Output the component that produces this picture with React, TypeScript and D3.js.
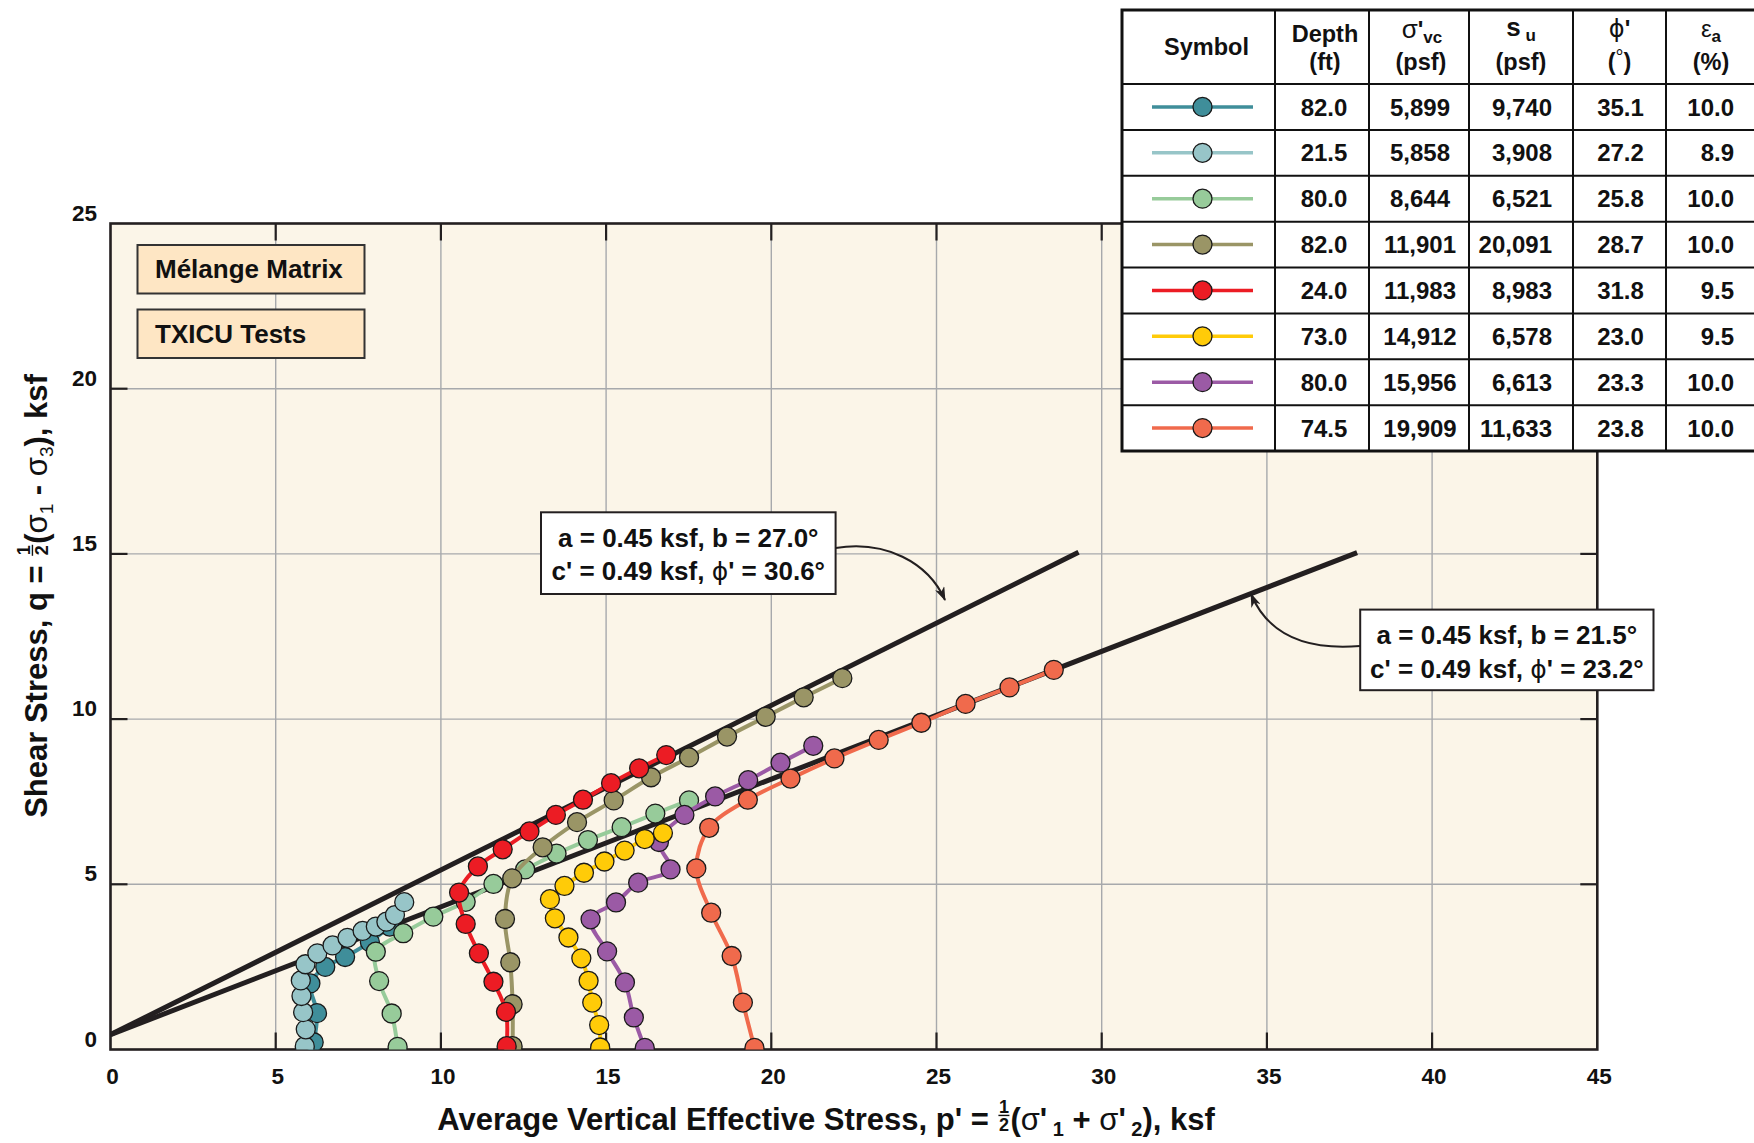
import React from "react";
import * as d3 from "d3";

const FONT = '"Liberation Sans", Arial, Helvetica, sans-serif';
const INK = "#231F20";

// ---------- data ----------
const xTickValues = [0, 5, 10, 15, 20, 25, 30, 35, 40, 45];
const yTickValues = [0, 5, 10, 15, 20, 25];

const seriesColors = ["#3F8E9A", "#97C5C8", "#97CB9A", "#9A9566", "#EC1C24", "#FFCB08", "#9B5AA5", "#F06A4C"];

const depthFt = ["82.0", "21.5", "80.0", "82.0", "24.0", "73.0", "80.0", "74.5"];
const sigmaVcPsf = ["5,899", "5,858", "8,644", "11,901", "11,983", "14,912", "15,956", "19,909"];
const suPsf = ["9,740", "3,908", "6,521", "20,091", "8,983", "6,578", "6,613", "11,633"];
const phiDeg = ["35.1", "27.2", "25.8", "28.7", "31.8", "23.0", "23.3", "23.8"];
const epsAPct = ["10.0", "8.9", "10.0", "10.0", "9.5", "9.5", "10.0", "10.0"];

// stress paths [p', q] in ksf
const series1: [number, number][] = [[6.15, 0.22], [6.25, 1.1], [6.05, 2.0], [6.5, 2.5], [7.1, 2.8], [7.85, 3.25], [8.45, 3.72]];
const series2: [number, number][] = [[5.88, 0.1], [5.91, 0.61], [5.83, 1.13], [5.78, 1.62], [5.76, 2.09], [5.9, 2.58], [6.26, 2.91], [6.72, 3.15], [7.17, 3.38], [7.63, 3.59], [8.03, 3.72], [8.35, 3.87], [8.61, 4.07], [8.89, 4.46]];
const series3: [number, number][] = [[8.69, 0.08], [8.51, 1.09], [8.13, 2.07], [8.03, 2.96], [8.86, 3.52], [9.77, 4.02], [10.75, 4.47], [11.59, 5.01], [12.55, 5.45], [13.5, 5.93], [14.45, 6.34], [15.47, 6.73], [16.49, 7.14], [17.51, 7.54]];
const series4: [number, number][] = [[12.17, 0.1], [12.17, 1.37], [12.1, 2.64], [11.94, 3.95], [12.16, 5.18], [13.08, 6.12], [14.12, 6.88], [15.23, 7.54], [16.36, 8.24], [17.51, 8.84], [18.66, 9.47], [19.83, 10.07], [20.98, 10.66], [22.15, 11.24]];
const series5: [number, number][] = [[11.99, 0.1], [11.97, 1.14], [11.59, 2.05], [11.15, 2.91], [10.75, 3.8], [10.55, 4.75], [11.12, 5.54], [11.87, 6.06], [12.68, 6.6], [13.48, 7.1], [14.3, 7.56], [15.15, 8.06], [16.0, 8.51], [16.82, 8.91]];
const series6: [number, number][] = [[14.82, 0.06], [14.79, 0.74], [14.58, 1.42], [14.47, 2.08], [14.25, 2.76], [13.86, 3.39], [13.45, 3.97], [13.3, 4.55], [13.74, 4.95], [14.33, 5.35], [14.95, 5.69], [15.56, 6.02], [16.17, 6.37], [16.72, 6.55]];
const series7: [number, number][] = [[16.17, 0.05], [15.84, 0.97], [15.57, 2.03], [15.03, 2.97], [14.53, 3.94], [15.3, 4.45], [15.97, 5.05], [16.95, 5.45], [16.6, 6.28], [17.37, 7.1], [18.3, 7.66], [19.3, 8.15], [20.28, 8.68], [21.27, 9.19]];
const series8: [number, number][] = [[19.49, 0.05], [19.14, 1.42], [18.8, 2.83], [18.18, 4.14], [17.73, 5.48], [18.12, 6.71], [19.29, 7.56], [20.58, 8.2], [21.91, 8.81], [23.25, 9.37], [24.54, 9.89], [25.88, 10.46], [27.21, 10.96], [28.55, 11.49]];
const allSeries = [series1, series2, series3, series4, series5, series6, series7, series8];
const drawOrder = [0, 1, 2, 3, 4, 6, 5, 7];

// failure envelopes
const envelopeUpper: [number, number][] = [[0, 0.45], [29.3, 15.05]];
const envelopeLower: [number, number][] = [[0, 0.45], [37.73, 15.04]];
const upperLabel = { ab: "a = 0.45 ksf, b = 27.0°", c: "c' = 0.49 ksf, ", phi: "' = 30.6°" };
const lowerLabel = { ab: "a = 0.45 ksf, b = 21.5°", c: "c' = 0.49 ksf, ", phi: "' = 23.2°" };

const titleBoxes = ["Mélange Matrix", "TXICU Tests"];

// ---------- text measuring ----------
let measureCtx: CanvasRenderingContext2D | null = null;
function measureText(t: string, size: number, weight: string | number) {
  if (!measureCtx) measureCtx = document.createElement("canvas").getContext("2d");
  if (!measureCtx) return t.length * size * 0.55;
  measureCtx.font = `${weight} ${size}px "Liberation Sans", Arial, sans-serif`;
  return measureCtx.measureText(t).width;
}

type Seg = { text?: string; frac?: [string, string]; size?: number; weight?: string | number; dy?: number };

function RichText({ segs, size, x = 0, y = 0, anchor = "middle" }: { segs: Seg[]; size: number; x?: number; y?: number; anchor?: string }) {
  const laid: { s: Seg; x: number; w: number; sz: number; wt: string | number }[] = [];
  let cx = 0;
  for (const s of segs) {
    const sz = s.size ?? size;
    const wt = s.weight ?? "bold";
    let w: number;
    if (s.frac) w = Math.max(measureText(s.frac[0], sz, wt), measureText(s.frac[1], sz, wt)) + 3;
    else w = measureText(s.text || "", sz, wt);
    laid.push({ s, x: cx, w, sz, wt });
    cx += w;
  }
  const off = anchor === "middle" ? -cx / 2 : anchor === "end" ? -cx : 0;
  return (
    <g transform={`translate(${x + off},${y})`} fill="#111" fontFamily={FONT}>
      {laid.map((it, i) =>
        it.s.frac ? (
          <g key={i}>
            <text x={it.x + it.w / 2} y={-size * 0.56} textAnchor="middle" fontSize={it.sz} fontWeight={it.wt}>{it.s.frac[0]}</text>
            <line x1={it.x + 1} x2={it.x + it.w - 1} y1={-size * 0.47} y2={-size * 0.47} stroke="#111" strokeWidth={1.4} />
            <text x={it.x + it.w / 2} y={size * 0.03} textAnchor="middle" fontSize={it.sz} fontWeight={it.wt}>{it.s.frac[1]}</text>
          </g>
        ) : (
          <text key={i} x={it.x} y={it.s.dy ?? 0} fontSize={it.sz} fontWeight={it.wt} style={{ whiteSpace: "pre" }}>{it.s.text}</text>
        )
      )}
    </g>
  );
}

// ---------- layout ----------
const PL = 110.5, PR = 1597.3, PT = 223.5, PB = 1049.5;

export default function App() {
  const x = d3.scaleLinear().domain([0, 45]).range([PL, PR]);
  const y = d3.scaleLinear().domain([0, 25]).range([PB, PT]);
  const line = d3.line<[number, number]>().x((d) => x(d[0])).y((d) => y(d[1])).curve(d3.curveCatmullRom.alpha(0.5));
  const straight = d3.line<[number, number]>().x((d) => x(d[0])).y((d) => y(d[1]));
  const tickLen = 17;

  // table layout
  const colEdges = [1122, 1275, 1369, 1469, 1573, 1666, 1764];
  const tTop = 10, tHead = 84, tBottom = 451;
  const rowH = (tBottom - tHead) / depthFt.length;
  const rowCenter = (i: number) => tHead + rowH * (i + 0.5);
  const colMid = (c: number) => (colEdges[c] + colEdges[c + 1]) / 2;

  const xTitle: Seg[] = [
    { text: "Average Vertical Effective Stress, p' = " },
    { frac: ["1", "2"], size: 18 },
    { text: "(" },
    { text: "σ", weight: "normal" },
    { text: "'" },
    { text: " 1", size: 20, dy: 6 },
    { text: " + " },
    { text: "σ", weight: "normal" },
    { text: "'" },
    { text: " 2", size: 20, dy: 6 },
    { text: "), ksf" },
  ];
  const yTitle: Seg[] = [
    { text: "Shear Stress, q = " },
    { frac: ["1", "2"], size: 18 },
    { text: "(" },
    { text: "σ", weight: "normal" },
    { text: "1", size: 19, weight: "normal", dy: 6 },
    { text: " - " },
    { text: "σ", weight: "normal" },
    { text: "3", size: 19, weight: "normal", dy: 6 },
    { text: "), ksf" },
  ];

  return (
    <svg width={1754} height={1143} style={{ position: "absolute", left: 0, top: 0, background: "#fff" }} fontFamily={FONT}>
      <defs>
        <marker id="arrowHead" viewBox="0 0 14 10" refX={13} refY={5} markerWidth={14} markerHeight={10} orient="auto" markerUnits="userSpaceOnUse">
          <path d="M0,0 L14,5 L0,10 L4,5 z" fill={INK} />
        </marker>
        <clipPath id="plotClip">
          <rect x={PL} y={PT} width={PR - PL} height={PB - PT} />
        </clipPath>
      </defs>

      {/* plot background */}
      <rect x={PL} y={PT} width={PR - PL} height={PB - PT} fill="#FBF5E8" />

      {/* grid */}
      <g stroke="#A7A9AC" strokeWidth={1.4}>
        {xTickValues.slice(1, -1).map((v) => (
          <line key={"gx" + v} x1={x(v)} x2={x(v)} y1={PT} y2={PB} />
        ))}
        {yTickValues.slice(1, -1).map((v) => (
          <line key={"gy" + v} x1={PL} x2={PR} y1={y(v)} y2={y(v)} />
        ))}
      </g>

      {/* ticks */}
      <g stroke={INK} strokeWidth={2.2}>
        {xTickValues.slice(1, -1).map((v) => (
          <g key={"tx" + v}>
            <line x1={x(v)} x2={x(v)} y1={PB} y2={PB - tickLen} />
            <line x1={x(v)} x2={x(v)} y1={PT} y2={PT + tickLen} />
          </g>
        ))}
        {yTickValues.slice(1, -1).map((v) => (
          <g key={"ty" + v}>
            <line x1={PL} x2={PL + tickLen} y1={y(v)} y2={y(v)} />
            <line x1={PR} x2={PR - tickLen} y1={y(v)} y2={y(v)} />
          </g>
        ))}
      </g>
      <rect x={PL} y={PT} width={PR - PL} height={PB - PT} fill="none" stroke={INK} strokeWidth={2.6} />

      {/* tick labels */}
      <g fontSize={22.5} fontWeight="bold" fill="#111">
        {xTickValues.map((v) => (
          <text key={"lx" + v} x={x(v) + 2} y={PB + 34} textAnchor="middle">{v}</text>
        ))}
        {yTickValues.map((v) => (
          <text key={"ly" + v} x={97} y={y(v) - 3} textAnchor="end">{v}</text>
        ))}
      </g>

      {/* axis titles */}
      <RichText segs={xTitle} size={31} x={826} y={1130} />
      <g transform="translate(47,596) rotate(-90)">
        <RichText segs={yTitle} size={31} />
      </g>

      {/* title boxes */}
      {titleBoxes.map((t, i) => (
        <g key={t}>
          <rect x={137.5} y={245 + i * 64.5} width={227} height={48.5} fill="#FEE6C4" stroke="#333" strokeWidth={2} />
          <text x={155} y={278 + i * 64.5} fontSize={26} fontWeight="bold" fill="#111">{t}</text>
        </g>
      ))}

      {/* envelopes and stress paths */}
      <g clipPath="url(#plotClip)">
        <path d={straight(envelopeUpper) || ""} fill="none" stroke={INK} strokeWidth={5} />
        <path d={straight(envelopeLower) || ""} fill="none" stroke={INK} strokeWidth={5} />
        {drawOrder.map((si) => (
          <g key={"s" + si}>
            <path d={line(allSeries[si]) || ""} fill="none" stroke={seriesColors[si]} strokeWidth={4} />
            {allSeries[si].map((d, j) => (
              <circle key={j} cx={x(d[0])} cy={y(d[1])} r={9.5} fill={seriesColors[si]} stroke="#1A1A1A" strokeWidth={1.3} />
            ))}
          </g>
        ))}
      </g>

      {/* envelope annotations */}
      <path d="M835.6,548 C885,540 928,562 945,600" fill="none" stroke={INK} strokeWidth={2} markerEnd="url(#arrowHead)" />
      <path d="M1360,646 C1300,651 1266,630 1251,594" fill="none" stroke={INK} strokeWidth={2} markerEnd="url(#arrowHead)" />
      {[
        { lab: upperLabel, bx: 541, by: 512.3, bw: 294.6, bh: 81.7 },
        { lab: lowerLabel, bx: 1360.2, by: 609.6, bw: 293.3, bh: 80.6 },
      ].map((b, i) => (
        <g key={"ann" + i}>
          <rect x={b.bx} y={b.by} width={b.bw} height={b.bh} fill="#fff" stroke={INK} strokeWidth={2} />
          <text x={b.bx + b.bw / 2} y={b.by + 34.5} textAnchor="middle" fontSize={26} fontWeight="bold" fill="#111">{b.lab.ab}</text>
          <text x={b.bx + b.bw / 2} y={b.by + 68} textAnchor="middle" fontSize={26} fontWeight="bold" fill="#111">
            {b.lab.c}
            <tspan fontWeight="normal" fontFamily='"DejaVu Sans", "Liberation Sans", sans-serif' fontSize={25}>ϕ</tspan>
            {b.lab.phi}
          </text>
        </g>
      ))}

      {/* table */}
      <g>
        <rect x={colEdges[0]} y={tTop} width={colEdges[6] - colEdges[0]} height={tBottom - tTop} fill="#fff" />
        <g stroke="#111" strokeWidth={2}>
          {colEdges.slice(1, -1).map((cx) => (
            <line key={"vc" + cx} x1={cx} x2={cx} y1={tTop} y2={tBottom} />
          ))}
          {depthFt.map((_, i) => (
            <line key={"hr" + i} x1={colEdges[0]} x2={colEdges[6]} y1={tHead + rowH * i} y2={tHead + rowH * i} />
          ))}
        </g>
        <rect x={colEdges[0]} y={tTop} width={colEdges[6] - colEdges[0]} height={tBottom - tTop} fill="none" stroke="#111" strokeWidth={3} />

        {/* header */}
        <g fontWeight="bold" fill="#111" fontSize={23.5} textAnchor="middle">
          <text x={colMid(0) + 8} y={54.5}>Symbol</text>
          <text x={colMid(1) + 3} y={42}>Depth</text>
          <text x={colMid(1) + 3} y={70}>(ft)</text>
          <text x={colMid(2) + 3} y={38}>
            <tspan fontWeight="normal" fontSize={26}>σ</tspan>
            <tspan>'</tspan>
            <tspan fontSize={17} dy={5}>vc</tspan>
          </text>
          <text x={colMid(2) + 2} y={70}>(psf)</text>
          <text x={colMid(3)} y={36}>
            <tspan fontSize={26}>s</tspan>
            <tspan fontSize={17} dy={5}> u</tspan>
          </text>
          <text x={colMid(3)} y={70}>(psf)</text>
          <text x={colMid(4)} y={37}>
            <tspan fontWeight="normal" fontFamily='"DejaVu Sans", "Liberation Sans", sans-serif' fontSize={24}>ϕ</tspan>
            <tspan>'</tspan>
          </text>
          <text x={colMid(4)} y={70}>
            <tspan>(</tspan>
            <tspan fontWeight="normal" fontSize={20} dy={-6}>°</tspan>
            <tspan dy={6}>)</tspan>
          </text>
          <text x={colMid(5) - 4} y={37}>
            <tspan fontWeight="normal" fontSize={24}>ε</tspan>
            <tspan fontSize={17} dy={5}>a</tspan>
          </text>
          <text x={colMid(5) - 4} y={70}>(%)</text>
        </g>

        {/* rows */}
        {depthFt.map((dep, i) => {
          const cy = rowCenter(i);
          const by = cy + 8.6;
          return (
            <g key={"row" + i} fontWeight="bold" fill="#111" fontSize={24}>
              <line x1={1152} x2={1253} y1={cy} y2={cy} stroke={seriesColors[i]} strokeWidth={3.6} />
              <circle cx={1202.5} cy={cy} r={9.5} fill={seriesColors[i]} stroke="#1A1A1A" strokeWidth={1.3} />
              <text x={colMid(1) + 2} y={by} textAnchor="middle">{dep}</text>
              <text x={colMid(2) + 1} y={by} textAnchor="middle">{sigmaVcPsf[i]}</text>
              <text x={1552} y={by} textAnchor="end">{suPsf[i]}</text>
              <text x={colMid(4) + 1} y={by} textAnchor="middle">{phiDeg[i]}</text>
              <text x={1734} y={by} textAnchor="end">{epsAPct[i]}</text>
            </g>
          );
        })}
      </g>
    </svg>
  );
}
